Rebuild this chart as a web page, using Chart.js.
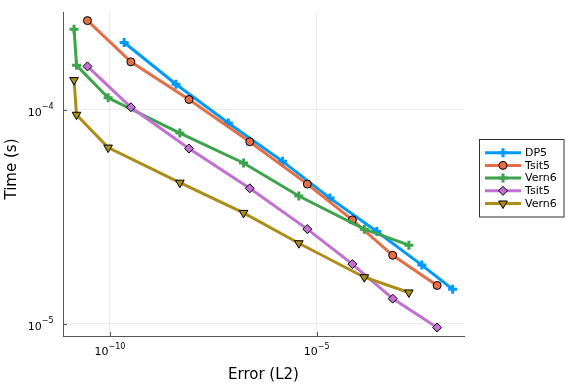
<!DOCTYPE html>
<html>
<head>
<meta charset="utf-8">
<script src="https://cdn.jsdelivr.net/npm/chart.js@4/dist/chart.umd.min.js"></script>
<style>
  html, body { margin: 0; padding: 0; background: #ffffff; }
  #wrap { width: 576px; height: 384px; }
</style>
</head>
<body>
<div id="wrap"><canvas id="c" width="576" height="384"></canvas></div>
<script>
// ---- data ----
const seriesNames = ["DP5", "Tsit5", "Vern6", "Tsit5", "Vern6"];
const errDP5   = [2.2e-10, 3.95e-9, 7.3e-8, 1.5e-6, 2.1e-5, 2.85e-4, 3.5e-3, 1.95e-2];
const timeDP5  = [2.07e-4, 1.32e-4, 8.7e-5, 5.75e-5, 3.87e-5, 2.7e-5, 1.88e-5, 1.45e-5];
const errTsit5 = [2.85e-11, 3.2e-10, 8.15e-9, 2.4e-7, 5.95e-6, 7.3e-5, 6.9e-4, 8.2e-3];
const timeTsit5a = [2.62e-4, 1.68e-4, 1.12e-4, 7.1e-5, 4.5e-5, 3.06e-5, 2.09e-5, 1.51e-5];
const errVern6 = [1.35e-11, 1.55e-11, 9.0e-11, 4.9e-9, 1.7e-7, 3.7e-6, 1.42e-4, 1.7e-3];
const timeVern6a = [2.39e-4, 1.62e-4, 1.14e-4, 7.8e-5, 5.65e-5, 3.96e-5, 2.77e-5, 2.33e-5];
const timeTsit5b = [1.6e-4, 1.03e-4, 6.6e-5, 4.3e-5, 2.77e-5, 1.9e-5, 1.31e-5, 9.6e-6];
const timeVern6b = [1.38e-4, 9.5e-5, 6.67e-5, 4.57e-5, 3.3e-5, 2.38e-5, 1.65e-5, 1.4e-5];
const xTickValues = [1e-10, 1e-5];
const xTickExps = ["\u221210", "\u22125"];
const yTickValues = [1e-4, 1e-5];
const yTickExps = ["\u22124", "\u22125"];
const xTitle = "Error (L2)";
const yTitle = "Time (s)";

// ---- styles ----
const colors = ["#009AFA", "#E26F46", "#3DA44D", "#C271D2", "#AC8D18"];
const markers = [
  { pointStyle: "cross",    radius: 4.5, rotation: 0,   borderWidth: 3, own: true },
  { pointStyle: "circle",   radius: 4,   rotation: 0,   borderWidth: 1, own: false },
  { pointStyle: "cross",    radius: 4.5, rotation: 0,   borderWidth: 3, own: true },
  { pointStyle: "rectRot",  radius: 4.5, rotation: 0,   borderWidth: 1, own: false },
  { pointStyle: "triangle", radius: 5,   rotation: 180, borderWidth: 1, own: false }
];
const xs = [errDP5, errTsit5, errVern6, errTsit5, errVern6];
const ys = [timeDP5, timeTsit5a, timeVern6a, timeTsit5b, timeVern6b];

const datasets = seriesNames.map((name, i) => ({
  label: name,
  data: xs[i].map((x, k) => ({ x: x, y: ys[i][k] })),
  borderColor: colors[i],
  backgroundColor: colors[i],
  borderWidth: 3,
  pointStyle: markers[i].pointStyle,
  pointRadius: markers[i].radius,
  pointRotation: markers[i].rotation,
  pointBackgroundColor: colors[i],
  pointBorderColor: markers[i].own ? colors[i] : "#000000",
  pointBorderWidth: markers[i].borderWidth,
  pointHoverRadius: markers[i].radius,
  tension: 0,
  fill: false,
  clip: false,
  order: seriesNames.length - i
}));

const AXIS_COLOR = "#555555";
const FONT = "'DejaVu Sans', sans-serif";

const decor = {
  id: "decor",
  afterDraw(chart) {
    const ctx = chart.ctx;
    const xS = chart.scales.x, yS = chart.scales.y;
    const ca = chart.chartArea;
    ctx.save();
    // inward tick marks
    ctx.strokeStyle = AXIS_COLOR;
    ctx.lineWidth = 1;
    ctx.beginPath();
    xTickValues.forEach(v => {
      const px = Math.round(xS.getPixelForValue(v)) + 0.5;
      ctx.moveTo(px, ca.bottom); ctx.lineTo(px, ca.bottom - 4);
    });
    yTickValues.forEach(v => {
      const py = Math.round(yS.getPixelForValue(v)) + 0.5;
      ctx.moveTo(ca.left, py); ctx.lineTo(ca.left + 4, py);
    });
    ctx.stroke();

    // tick labels 10^e
    ctx.fillStyle = "#000000";
    ctx.textBaseline = "alphabetic";
    ctx.textAlign = "left";
    const bigF = "11px " + FONT, smallF = "8px " + FONT;
    xTickValues.forEach((v, i) => {
      const px = xS.getPixelForValue(v);
      ctx.font = bigF; const w1 = ctx.measureText("10").width;
      ctx.font = smallF; const w2 = ctx.measureText(xTickExps[i]).width;
      const x0 = px - (w1 + w2) / 2;
      ctx.font = bigF; ctx.fillText("10", x0, ca.bottom + 19);
      ctx.font = smallF; ctx.fillText(xTickExps[i], x0 + w1, ca.bottom + 13);
    });
    yTickValues.forEach((v, i) => {
      const py = yS.getPixelForValue(v);
      ctx.font = bigF; const w1 = ctx.measureText("10").width;
      ctx.font = smallF; const w2 = ctx.measureText(yTickExps[i]).width;
      const xr = ca.left - 9.5;
      ctx.font = bigF; ctx.fillText("10", xr - w2 - w1, py + 6);
      ctx.font = smallF; ctx.fillText(yTickExps[i], xr - w2, py - 0.5);
    });

    // axis titles
    ctx.font = "15px " + FONT;
    ctx.textAlign = "center";
    ctx.fillText(xTitle, (ca.left + ca.right) / 2, 379);
    ctx.save();
    ctx.translate(15.5, 169);
    ctx.rotate(-Math.PI / 2);
    ctx.fillText(yTitle, 0, 0);
    ctx.restore();

    // legend
    const bx = 479.5, by = 139.5, bw = 84.5, bh = 77.5;
    ctx.fillStyle = "#ffffff";
    ctx.fillRect(bx, by, bw, bh);
    ctx.strokeStyle = "#333333";
    ctx.lineWidth = 1;
    ctx.strokeRect(bx, by, bw, bh);
    const rowY = [152.7, 165.4, 178.1, 190.8, 203.5];
    ctx.font = "11px " + FONT;
    ctx.textAlign = "left";
    ctx.textBaseline = "middle";
    seriesNames.forEach((name, i) => {
      const y = rowY[i];
      ctx.strokeStyle = colors[i];
      ctx.lineWidth = 3;
      ctx.beginPath();
      ctx.moveTo(485, y); ctx.lineTo(521, y);
      ctx.stroke();
      ctx.fillStyle = colors[i];
      ctx.strokeStyle = markers[i].own ? colors[i] : "#000000";
      ctx.lineWidth = markers[i].borderWidth;
      Chart.helpers.drawPoint(ctx, {
        pointStyle: markers[i].pointStyle,
        radius: markers[i].radius,
        rotation: markers[i].rotation,
        borderWidth: markers[i].borderWidth
      }, 503, y);
      ctx.fillStyle = "#000000";
      ctx.fillText(name, 525, y + 0.5);
    });
    ctx.restore();
  }
};

new Chart(document.getElementById("c"), {
  type: "line",
  data: { datasets: datasets },
  options: {
    responsive: false,
    animation: false,
    events: [],
    layout: { padding: { left: 63, top: 12, right: 112, bottom: 48 } },
    plugins: { legend: { display: false }, tooltip: { enabled: false } },
    scales: {
      x: {
        type: "logarithmic",
        position: "bottom",
        min: Math.pow(10, -11.137),
        max: Math.pow(10, -1.436),
        afterBuildTicks: s => { s.ticks = xTickValues.map(v => ({ value: v })); },
        ticks: { display: false },
        grid: { color: "#ececec", lineWidth: 1, drawTicks: false },
        border: { display: true, color: AXIS_COLOR, width: 1 },
        title: { display: false }
      },
      y: {
        type: "logarithmic",
        position: "left",
        min: Math.pow(10, -5.0576),
        max: Math.pow(10, -3.5414),
        afterBuildTicks: s => { s.ticks = yTickValues.map(v => ({ value: v })); },
        ticks: { display: false },
        grid: { color: "#ececec", lineWidth: 1, drawTicks: false },
        border: { display: true, color: AXIS_COLOR, width: 1 },
        title: { display: false }
      }
    }
  },
  plugins: [decor]
});
</script>
</body>
</html>
